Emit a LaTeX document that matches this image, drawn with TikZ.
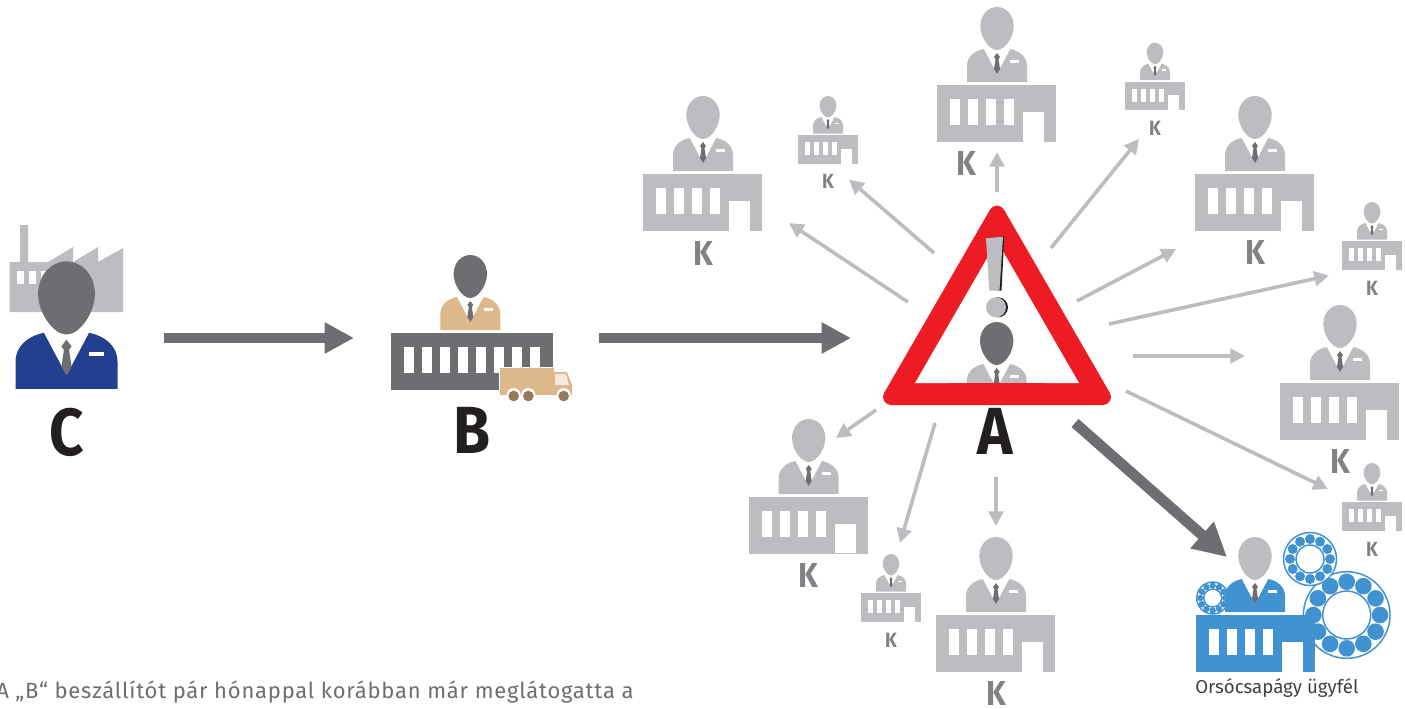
\documentclass[tikz,border=0pt]{standalone}
\usepackage{fontspec}
\setmainfont{Fira Sans}
\usetikzlibrary{arrows.meta}
\definecolor{lightgrey}{HTML}{BBBDC0}
\definecolor{darkgrey}{HTML}{6D6E71}
\definecolor{letgrey}{HTML}{808285}
\definecolor{suitblue}{HTML}{233F8F}
\definecolor{tan}{HTML}{DDB88B}
\definecolor{wheelbrown}{HTML}{95795A}
\definecolor{warnred}{HTML}{ED1C24}
\definecolor{custblue}{HTML}{4093D0}
\definecolor{nearblack}{HTML}{231F20}
\definecolor{textgrey}{HTML}{414042}
\tikzset{
  greyarrow/.style={draw=lightgrey,line width=2.7pt,-{Triangle[length=11pt,width=11pt]}},
  darkarrow/.style={draw=darkgrey,line width=7pt,-{Triangle[length=22pt,width=22pt]}},
  diagarrow/.style={draw=darkgrey,line width=8pt,-{Triangle[length=25pt,width=25pt]}},
  bigletter/.style={anchor=base,inner sep=0pt,xscale=0.9,text=nearblack,font=\fontsize{50}{50}\selectfont\bfseries},
  klarge/.style={anchor=base,inner sep=0pt,xscale=0.9,text=letgrey,font=\fontsize{26}{26}\selectfont\bfseries},
  ksmall/.style={anchor=base,inner sep=0pt,xscale=0.9,text=letgrey,font=\fontsize{15.5}{16}\selectfont\bfseries},
  plaintext/.style={anchor=base west,inner sep=0pt}
}
% x, y, scale, head colour, jacket colour
\newcommand{\personfig}[5]{
  \begin{scope}[shift={(#1,#2)},scale=#3]
    \fill[#4] (0,-78) .. controls (9.5,-78) and (16.7,-69.5) .. (16.7,-59)
      .. controls (16.7,-48) and (8,-35) .. (0,-35)
      .. controls (-8,-35) and (-16.7,-48) .. (-16.7,-59)
      .. controls (-16.7,-69.5) and (-9.5,-78) .. (0,-78) -- cycle;
    \fill[#5] (-30,-3) -- (-30,-19) .. controls (-30,-28) and (-23,-34) .. (-13.3,-36)
      -- (0,-11) -- (13.3,-36) .. controls (23,-34) and (30,-28) .. (30,-19)
      -- (30,-3) -- cycle;
    \fill[darkgrey] (0,-32) -- (-3,-28) -- (-1.5,-26) -- (-3,-16) -- (0,-11)
      -- (3,-16) -- (1.5,-26) -- (3,-28) -- cycle;
    \fill[white] (13.3,-24.7) rectangle (22.3,-22.3);
  \end{scope}
}
% x, y, scale, colour
\newcommand{\buildingfig}[4]{
  \begin{scope}[shift={(#1,#2)},scale=#3]
    \fill[#4] (-60,0) rectangle (59,57);
    \foreach \w in {0,...,3} {
      \fill[white] (-46.7+\w*18,13.7) rectangle (-36.7+\w*18,40.4);
    }
    \fill[white] (26.3,27) rectangle (47.3,57);
  \end{scope}
}
% x, y, outer, inner, ball, pitch
\newcommand{\bearingfig}[6]{
  \draw[custblue,line width=1.1pt,fill=white] (#1,#2) circle (#3);
  \foreach \b in {0,30,...,330} {
    \fill[custblue] ({#1+#6*cos(\b)},{#2+#6*sin(\b)}) circle (#5);
  }
  \draw[custblue,line width=1.1pt] (#1,#2) circle (#4);
}
\begin{document}
\begin{tikzpicture}[x=0.75pt,y=-0.75pt]
  \useasboundingbox (0,0) rectangle (1405,708);
  % factory behind C
  \fill[lightgrey] (20,225) -- (28,225) -- (28,262) -- (48,262) -- (73,247) -- (73,262)
    -- (98,247) -- (98,262) -- (123,248) -- (123,312) -- (9.5,312) -- (9.5,262) -- (20,262) -- cycle;
  \foreach \x in {17,29,41} {
    \fill[white] (\x,271) rectangle (\x+6.5,284);
  }
  \personfig{66.5}{394}{1.7}{darkgrey}{suitblue}
  \node[bigletter] (labelc) at (67,455) {C};
  % B with truck
  \personfig{470.3}{333}{1}{darkgrey}{tan}
  \fill[darkgrey] (391,333) rectangle (553,390);
  \foreach \w in {0,...,7} {
    \fill[white] (404+\w*18,347) rectangle (414+\w*18,373);
  }
  \fill[white] (498.5,366.5) rectangle (574,399);
  \fill[tan] (500.3,368) rectangle (554,395);
  \fill[tan] (554,372) -- (567,372) -- (572,385) -- (572,395) -- (554,395) -- cycle;
  \fill[white!70!tan] (555,374) -- (566,374) -- (569,385) -- (555,385) -- cycle;
  \foreach \x in {513.7,528.3,563.7} {
    \fill[white] (\x,395) circle (7);
    \fill[wheelbrown] (\x,396) circle (5.3);
  }
  \node[bigletter] (labelb) at (472.5,453) {B};
  % warning triangle A
  \draw[warnred,line width=12pt,line join=round,fill=warnred] (891,397) -- (1103,397) -- (997,213.6) -- cycle;
  \fill[white] (915,383) -- (1079,383) -- (997,241) -- cycle;
  \personfig{996.7}{400}{1}{darkgrey}{lightgrey}
  \fill[warnred] (950,383) rectangle (1045,400);
  \fill[nearblack] (1000,237) -- (1004.3,235.5) -- (1001.5,290.7) -- (997,290.7) -- cycle;
  \fill[lightgrey] (986,238.3) -- (1003,236.7) -- (999.5,290.7) -- (989.3,290.7) -- cycle;
  \fill[nearblack] (998,307.3) circle (10);
  \fill[lightgrey] (996,307.3) circle (10);
  \node[bigletter] (labela) at (995,454) {A};
  % large K
  \foreach \name/\x/\y/\lx/\ly in {a/703/174/703/265,b/997/85/966/175,c/1255/174/1255.5/264,
    d/1340/383/1340/473,e/808.7/497/808/587,f/996/615/996/705} {
    \personfig{\x}{\y}{1}{lightgrey}{lightgrey}
    \buildingfig{\x}{\y}{1}{lightgrey}
    \node[klarge] (klarge\name) at (\lx,\ly) {K};
  }
  % closed door on one K
  \fill[lightgrey] (830,553) rectangle (860,554);
  % small K
  \foreach \name/\x/\y/\ly in {a/828/135/188,b/1155/81.7/135,c/1372/241/295,d/1372/502/556,e/891/593/647} {
    \personfig{\x}{\y}{0.5}{lightgrey}{lightgrey}
    \buildingfig{\x}{\y}{0.5}{lightgrey}
    \node[ksmall] (ksmall\name) at (\x,\ly) {K};
  }
  % bearing customer
  \bearingfig{1346.7}{615}{43.3}{24}{8.3}{33.3}
  \bearingfig{1310}{559}{26.5}{14}{5}{20}
  \bearingfig{1212.7}{598}{16}{9}{3.2}{12.5}
  \personfig{1255}{615}{1}{lightgrey}{custblue}
  \buildingfig{1255.5}{615}{1}{custblue}
  \node[plaintext,text=textgrey,font=\fontsize{14}{14}\selectfont] (custlabel) at (1195,693) {Orsócsapágy ügyfél};
  % caption
  \node[plaintext,text=darkgrey,font=\fontsize{16.5}{17}\selectfont\addfontfeatures{LetterSpace=3.5}] (caption) at (-4,698) {A „B“ beszállítót pár hónappal korábban már meglátogatta a};
  % dark arrows
  \foreach \name/\xa/\ya/\xb/\yb in {ca/164/338/354/338,ab/599/338/851/338} {
    \coordinate (\name s) at (\xa,\ya);
    \coordinate (\name e) at (\xb,\yb);
    \draw[darkarrow] (\name s) -- (\name e);
  }
  \coordinate (acs) at (1075,423);
  \coordinate (ace) at (1227,557);
  \draw[diagarrow] (acs) -- (ace);
  % grey arrows
  \foreach \name/\xa/\ya/\xb/\yb in {ga/908/302/789/223,gb/934/253/849/179.5,gc/997/192/997/152,
    gd/1051/248/1139/139,ge/1077/301/1176/249,gf/1109/324/1329/275.5,gg/1133/356/1245/356,
    gh/1126/391/1328/489,gi/996/477/996/526,gj/935/423/900/543,gk/876/410/836/438} {
    \coordinate (\name s) at (\xa,\ya);
    \coordinate (\name e) at (\xb,\yb);
    \draw[greyarrow] (\name s) -- (\name e);
  }
\end{tikzpicture}
\end{document}
